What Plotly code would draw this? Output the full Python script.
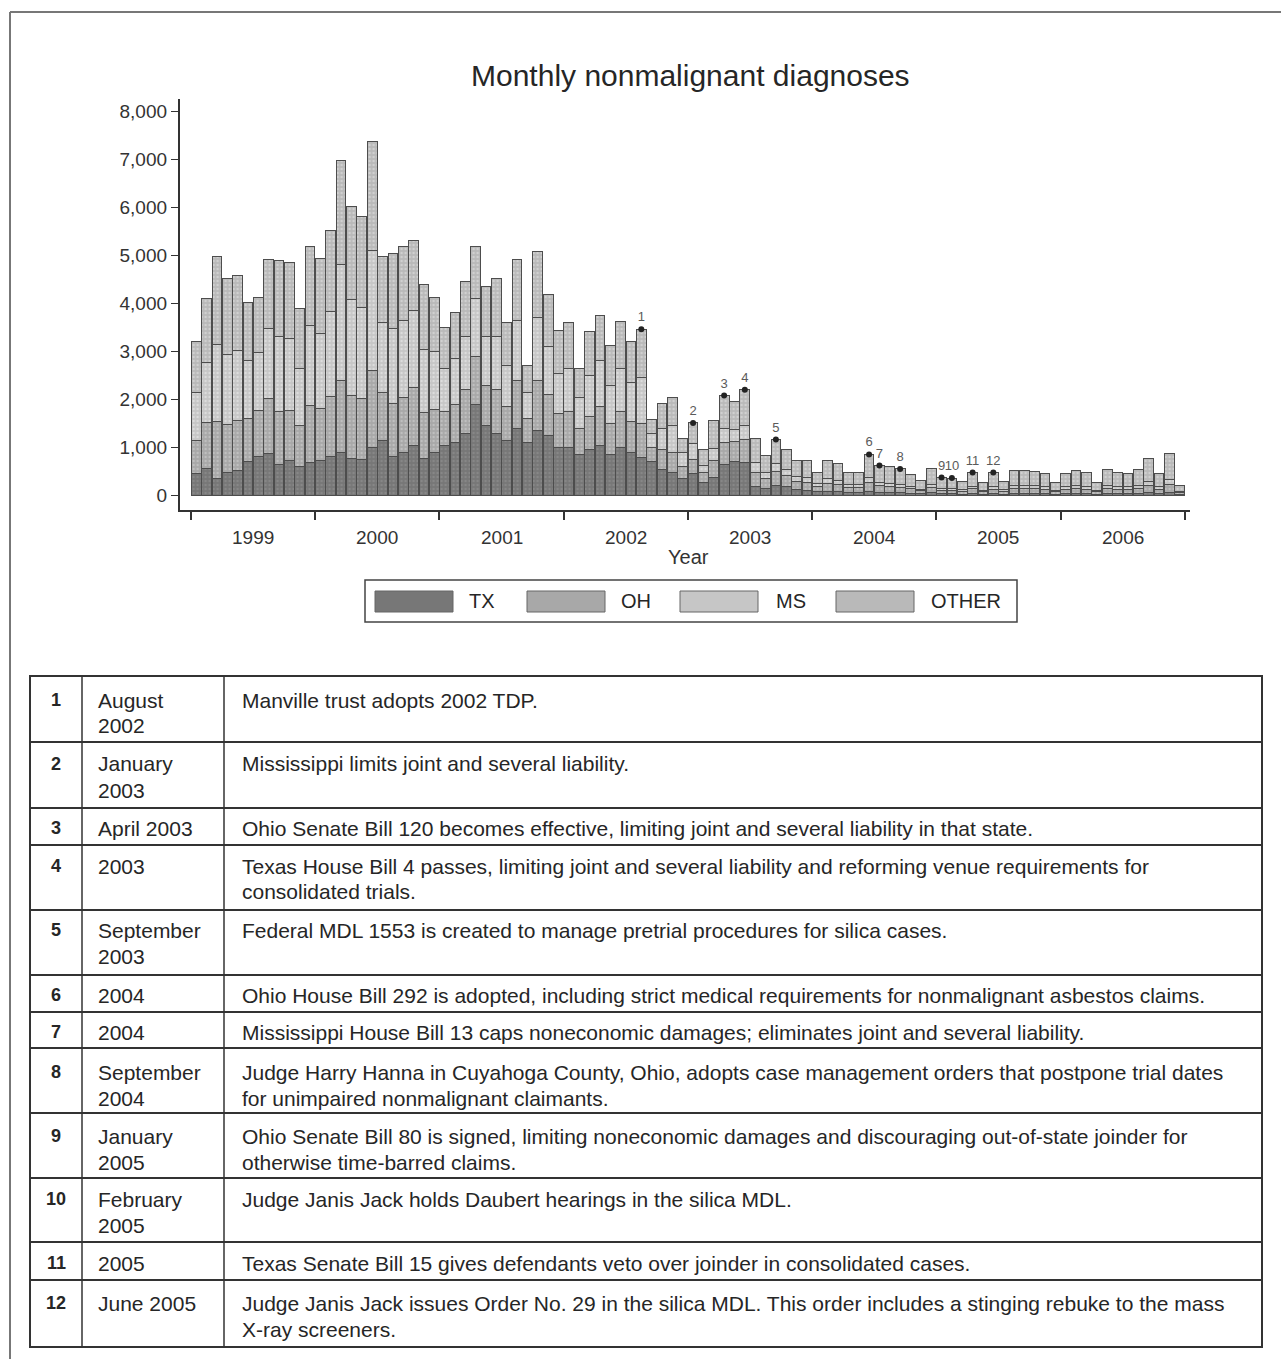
import plotly.graph_objects as go

# ---------------- data ----------------
years = ["1999", "2000", "2001", "2002", "2003", "2004", "2005", "2006"]
months = [f"{y}-{m:02d}" for y in years for m in range(1, 13)]

tx = [450, 560, 350, 480, 520, 700, 820, 880, 650, 720, 600, 680,
      720, 820, 900, 780, 760, 1000, 1150, 820, 900, 1050, 780, 900,
      1050, 1100, 1300, 1900, 1450, 1300, 1150, 1400, 1100, 1350, 1250, 1000,
      1000, 850, 950, 1050, 850, 1000, 900, 800, 700, 550, 480, 350,
      450, 280, 380, 650, 700, 680, 180, 150, 220, 180, 120, 100,
      80, 90, 80, 60, 70, 90, 70, 60, 60, 50, 40, 60,
      40, 40, 30, 50, 30, 40, 30, 50, 50, 50, 40, 30,
      40, 50, 40, 30, 50, 40, 40, 50, 60, 40, 70, 20]
oh = [700, 950, 1200, 1000, 1050, 900, 950, 1150, 1100, 1050, 850, 1200,
      1100, 1250, 1500, 1300, 1250, 1600, 1000, 1100, 1150, 1200, 950, 900,
      700, 800, 900, 1000, 850, 900, 700, 1000, 500, 1050, 850, 700,
      750, 550, 700, 800, 650, 750, 650, 700, 300, 400, 420, 250,
      300, 200, 350, 450, 420, 480, 300, 200, 280, 230, 180, 170,
      110, 170, 150, 110, 100, 180, 130, 120, 110, 90, 60, 110,
      70, 70, 60, 90, 50, 90, 60, 100, 100, 90, 90, 50,
      90, 100, 90, 50, 100, 90, 90, 100, 150, 90, 160, 40]
ms = [1000, 1250, 1600, 1450, 1450, 1200, 1200, 1450, 1550, 1500, 1200, 1650,
      1550, 1750, 2400, 2000, 1900, 2500, 1450, 1550, 1600, 1600, 1300, 1200,
      900, 950, 1100, 1200, 1000, 1100, 850, 1250, 550, 1300, 1000, 850,
      900, 650, 850, 950, 800, 900, 800, 950, 300, 450, 550, 300,
      330, 150, 250, 300, 250, 300, 200, 130, 170, 130, 100, 100,
      60, 90, 80, 60, 55, 100, 75, 70, 65, 50, 35, 70,
      45, 45, 35, 55, 30, 55, 35, 60, 60, 60, 55, 30,
      55, 60, 55, 30, 65, 55, 55, 65, 90, 55, 100, 25]
other = [1050, 1350, 1815, 1590, 1550, 1210, 1150, 1435, 1600, 1580, 1250, 1660,
         1570, 1700, 2180, 1940, 1890, 2260, 1365, 1570, 1540, 1450, 1360, 1120,
         850, 950, 1160, 1090, 1050, 1220, 910, 1265, 560, 1370, 1090, 890,
         960, 590, 920, 950, 825, 980, 860, 1010, 275, 515, 585, 280,
         430, 320, 580, 680, 595, 740, 500, 350, 495, 410, 340, 360,
         235, 380, 360, 255, 260, 485, 350, 350, 320, 250, 175, 320,
         220, 210, 175, 285, 160, 295, 165, 310, 310, 300, 275, 160,
         275, 310, 295, 160, 325, 295, 275, 325, 470, 275, 540, 125]

series_names = ["TX", "OH", "MS", "OTHER"]
series_values = [tx, oh, ms, other]
series_colors = ["#777777", "#a8a8a8", "#c6c6c6", "#b9b9b9"]
series_dots = ["#959595", "#d6d6d6", "#f2f2f2", "#e6e6e6"]

event_labels = ["1", "2", "3", "4", "5", "6", "7", "8", "9", "10", "11", "12"]
event_months = ["2002-08", "2003-01", "2003-04", "2003-06", "2003-09", "2004-06",
                "2004-07", "2004-09", "2005-01", "2005-02", "2005-04", "2005-06"]

table_nums = ["1", "2", "3", "4", "5", "6", "7", "8", "9", "10", "11", "12"]
table_dates = [["August", "2002"], ["January", "2003"], ["April 2003"], ["2003"],
               ["September", "2003"], ["2004"], ["2004"], ["September", "2004"],
               ["January", "2005"], ["February", "2005"], ["2005"], ["June 2005"]]
table_desc = [
    ["Manville trust adopts 2002 TDP."],
    ["Mississippi limits joint and several liability."],
    ["Ohio Senate Bill 120 becomes effective, limiting joint and several liability in that state."],
    ["Texas House Bill 4 passes, limiting joint and several liability and reforming venue requirements for",
     "consolidated trials."],
    ["Federal MDL 1553 is created to manage pretrial procedures for silica cases."],
    ["Ohio House Bill 292 is adopted, including strict medical requirements for nonmalignant asbestos claims."],
    ["Mississippi House Bill 13 caps noneconomic damages; eliminates joint and several liability."],
    ["Judge Harry Hanna in Cuyahoga County, Ohio, adopts case management orders that postpone trial dates",
     "for unimpaired nonmalignant claimants."],
    ["Ohio Senate Bill 80 is signed, limiting noneconomic damages and discouraging out-of-state joinder for",
     "otherwise time-barred claims."],
    ["Judge Janis Jack holds Daubert hearings in the silica MDL."],
    ["Texas Senate Bill 15 gives defendants veto over joinder in consolidated cases."],
    ["Judge Janis Jack issues Order No. 29 in the silica MDL. This order includes a stinging rebuke to the mass",
     "X-ray screeners."],
]

# ---------------- layout helpers ----------------
W, H = 1281, 1359
FONT = "Liberation Sans, Arial, sans-serif"
INK = "#262626"


def px(x):
    return x / W


def py(y):
    return 1 - y / H


def note(x, y, text, size, xanchor="center", xref="paper", color=INK):
    return dict(x=x, y=y, xref=xref, yref="paper", text=text, showarrow=False,
                xanchor=xanchor, yanchor="middle", font=dict(family=FONT, size=size, color=color))


fig = go.Figure()
x_idx = list(range(len(months)))

for name, vals, col, dot in zip(series_names, series_values, series_colors, series_dots):
    fig.add_trace(go.Bar(
        x=x_idx, y=vals, name=name, hovertext=months,
        marker=dict(color=col, line=dict(color="#4d4d4d", width=1),
                    pattern=dict(shape=".", fgcolor=dot, size=4, solidity=0.3)),
        showlegend=False))

totals = [sum(v[i] for v in series_values) for i in x_idx]
ev_idx = [months.index(m) for m in event_months]
fig.add_trace(go.Scatter(
    x=ev_idx, y=[totals[i] for i in ev_idx], mode="markers+text",
    text=event_labels, textposition="top center",
    textfont=dict(family=FONT, size=13, color="#5a5a5a"),
    marker=dict(symbol="circle", size=6, color="#222"),
    showlegend=False, cliponaxis=False))

shapes = []
annotations = []

# title
annotations.append(note(px(690), py(76), "Monthly nonmalignant diagnoses", 30))
# year labels
for k, yr in enumerate(years):
    annotations.append(note(12 * k + 5.5, py(537), yr, 19, xref="x", color="#333"))
annotations.append(note(px(688), py(557), "Year", 20, color="#333"))

# legend (custom, wide swatches)
shapes.append(dict(type="rect", xref="paper", yref="paper", x0=px(365), x1=px(1017), y0=py(622), y1=py(580),
                   line=dict(color="#444", width=1.5), fillcolor="rgba(0,0,0,0)"))
sw_x = [375, 527, 680, 836]
tx_x = [467, 619, 774, 929]
for name, col, sx, tx0 in zip(series_names, series_colors, sw_x, tx_x):
    shapes.append(dict(type="rect", xref="paper", yref="paper", x0=px(sx), x1=px(sx + 78), y0=py(612), y1=py(591),
                       line=dict(color="#666", width=1), fillcolor=col))
    annotations.append(note(px(tx0), py(601), name, 20, xanchor="left"))

# table
row_bounds = [676, 742, 808, 845, 910, 975, 1012, 1048, 1113, 1178, 1242, 1280, 1347]
first_line = [700, 764, 828, 866, 930, 995, 1032, 1072, 1136, 1199, 1263, 1303]
line_gap = 26
tl, tr = 30, 1262
shapes.append(dict(type="rect", xref="paper", yref="paper", x0=px(tl), x1=px(tr), y0=py(row_bounds[-1]),
                   y1=py(row_bounds[0]), line=dict(color="#333", width=2), fillcolor="rgba(0,0,0,0)"))
for yb in row_bounds[1:-1]:
    shapes.append(dict(type="line", xref="paper", yref="paper", x0=px(tl), x1=px(tr), y0=py(yb), y1=py(yb),
                       line=dict(color="#333", width=2)))
for xc in [82, 224]:
    shapes.append(dict(type="line", xref="paper", yref="paper", x0=px(xc), x1=px(xc), y0=py(row_bounds[0]),
                       y1=py(row_bounds[-1]), line=dict(color="#333", width=1.5)))
for r in range(len(table_nums)):
    y0 = first_line[r]
    annotations.append(note(px(56), py(y0), "<b>" + table_nums[r] + "</b>", 18))
    for j, ln in enumerate(table_dates[r]):
        annotations.append(note(px(96), py(y0 + j * line_gap), ln, 21, xanchor="left"))
    for j, ln in enumerate(table_desc[r]):
        annotations.append(note(px(240), py(y0 + j * line_gap), ln, 21, xanchor="left"))

# scanned page frame
shapes.append(dict(type="line", xref="paper", yref="paper", x0=px(10), x1=px(1281), y0=py(12), y1=py(12),
                   line=dict(color="#777", width=2)))
shapes.append(dict(type="line", xref="paper", yref="paper", x0=px(10), x1=px(10), y0=py(12), y1=py(1359),
                   line=dict(color="#777", width=2)))

fig.update_layout(
    width=W, height=H, margin=dict(l=0, r=0, t=0, b=0),
    paper_bgcolor="white", plot_bgcolor="white",
    barmode="stack", bargap=0.06,
    font=dict(family=FONT, color=INK),
    shapes=shapes, annotations=annotations,
    xaxis=dict(domain=[px(179.6), px(1190)], range=[-1.6, 96], showline=True, linecolor="#333", linewidth=1.5,
               tickvals=[12 * k - 0.5 for k in range(len(years) + 1)], ticktext=[""] * (len(years) + 1),
               ticks="outside", ticklen=8, tickcolor="#333", tickwidth=1.5, showgrid=False, zeroline=False),
    yaxis=dict(domain=[py(510), py(99)], range=[-300, 8250], tickvals=list(range(0, 8001, 1000)),
               tickformat=",", ticks="outside", ticklen=7, tickcolor="#333", showline=True, linecolor="#333",
               linewidth=1.5, showgrid=False, zeroline=False,
               tickfont=dict(family=FONT, size=19, color="#333")),
)

fig.write_html("out.html", config={"displayModeBar": False},
               post_script="document.body.style.margin='0';document.body.style.overflow='hidden';")
